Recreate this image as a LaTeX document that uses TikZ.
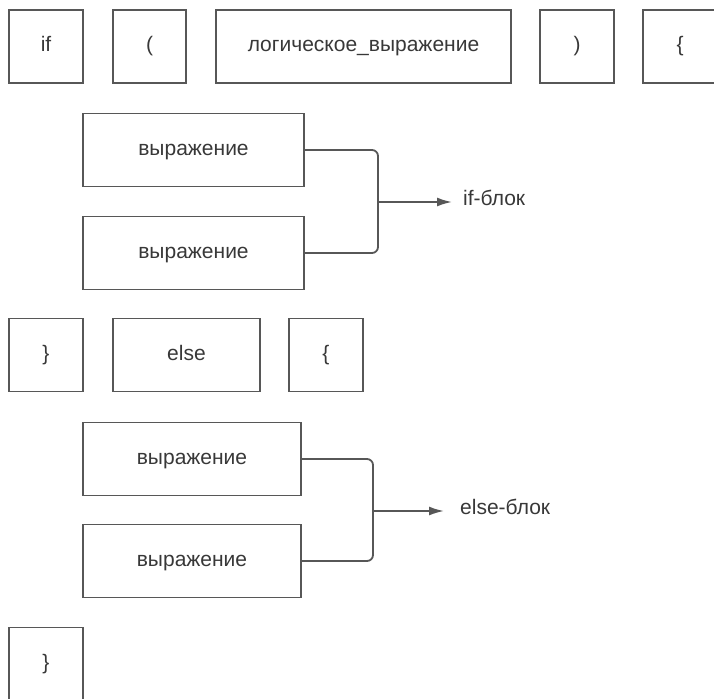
\documentclass[tikz,border=0pt]{standalone}
\usepackage{fontspec}
\setmainfont{Liberation Sans}
\usetikzlibrary{arrows.meta}
\definecolor{linegray}{HTML}{575757}
\definecolor{textgray}{HTML}{383838}
\tikzset{
  box/.style={draw=linegray, line width=1.8pt, rectangle, inner sep=0pt,
    minimum height=73pt, text=textgray, font=\fontsize{21}{25}\selectfont,
    text height=16pt, text depth=5pt},
  conn/.style={draw=linegray, line width=1.8pt, rounded corners=6pt},
  arr/.style={draw=linegray, line width=1.8pt, -{Latex[length=15pt,width=9pt]}},
  lbl/.style={text=textgray, font=\fontsize{21}{25}\selectfont, anchor=west, inner sep=0pt,
    text height=16pt, text depth=5pt}
}
\begin{document}
\begin{tikzpicture}[x=1pt,y=-1pt]
\useasboundingbox (0,0) rectangle (714,698);
% row 1
\node[box, minimum width=74pt] (if) at (46,46.5) {if};
\node[box, minimum width=73pt] (lp) at (149.5,46.5) {(};
\node[box, minimum width=295pt] (cond) at (363.5,46.5) {логическое\_выражение};
\node[box, minimum width=74pt] (rp) at (577,46.5) {)};
\node[box, minimum width=74pt] (lb1) at (680,46.5) {\{};
% if block
\node[box, minimum width=221pt] (e1) at (193.5,150) {выражение};
\node[box, minimum width=221pt] (e2) at (193.5,253) {выражение};
\coordinate (j1) at (378,202);
\draw[conn] (e1.east) -| (j1) |- (e2.east);
\draw[arr] (j1) -- ++(74,0) coordinate (t1);
\node[lbl] (ifb) at (463,199.5) {if-блок};
% row 3
\node[box, minimum width=74pt] (rb1) at (46,355) {\}};
\node[box, minimum width=147pt] (else) at (186.5,355) {else};
\node[box, minimum width=74pt] (lb2) at (326,355) {\{};
% else block
\node[box, minimum width=218pt] (e3) at (192,459) {выражение};
\node[box, minimum width=218pt] (e4) at (192,561) {выражение};
\coordinate (j2) at (373,511);
\draw[conn] (e3.east) -| (j2) |- (e4.east);
\draw[arr] (j2) -- ++(71,0) coordinate (t2);
\node[lbl] (elseb) at (460,509) {else-блок};
% final
\node[box, minimum width=74pt] (rb2) at (46,664) {\}};
\end{tikzpicture}
\end{document}
